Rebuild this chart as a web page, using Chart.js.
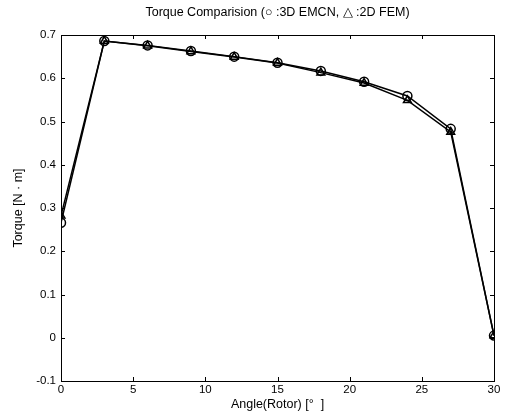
<!DOCTYPE html>
<html>
<head>
<meta charset="utf-8">
<script src="https://cdn.jsdelivr.net/npm/chart.js@4.4.0/dist/chart.umd.min.js"></script>
<style>
  html, body { margin: 0; padding: 0; background: #fff; }
  #wrap { width: 505px; height: 412px; }
</style>
</head>
<body>
<div id="wrap"><canvas id="grafico" width="505" height="412"></canvas></div>
<script>
/* Dados */
const angulos = [0, 3, 6, 9, 12, 15, 18, 21, 24, 27, 30];
const torqueEmcn = [0.266, 0.686, 0.676, 0.663, 0.650, 0.636, 0.617, 0.592, 0.559, 0.483, 0.005];
const torqueFem  = [0.282, 0.686, 0.675, 0.662, 0.649, 0.635, 0.613, 0.589, 0.549, 0.476, 0.005];
const ticksX = [0, 5, 10, 15, 20, 25, 30];
const ticksY = [-0.1, 0, 0.1, 0.2, 0.3, 0.4, 0.5, 0.6, 0.7];

const fonte = "'Liberation Sans', Arial, sans-serif";

function pares(ys) {
  return angulos.map((x, i) => ({ x, y: ys[i] }));
}

/* Moldura estilo MATLAB: caixa fechada e ticks para dentro nos 4 lados */
const moldura = {
  id: 'moldura',
  afterDraw(chart) {
    const { ctx, chartArea: a, scales } = chart;
    const len = 4;
    ctx.save();
    ctx.strokeStyle = '#000';
    ctx.lineWidth = 1;
    ctx.strokeRect(a.left + 0.5, a.top + 0.5, a.right - a.left, a.bottom - a.top);
    ctx.beginPath();
    ticksX.forEach(v => {
      const px = Math.round(scales.x.getPixelForValue(v)) + 0.5;
      ctx.moveTo(px, a.bottom); ctx.lineTo(px, a.bottom - len);
      ctx.moveTo(px, a.top);    ctx.lineTo(px, a.top + len);
    });
    ticksY.forEach(v => {
      const py = Math.round(scales.y.getPixelForValue(v)) + 0.5;
      ctx.moveTo(a.left, py);  ctx.lineTo(a.left + len, py);
      ctx.moveTo(a.right, py); ctx.lineTo(a.right - len, py);
    });
    ctx.stroke();
    ctx.restore();
  }
};

new Chart(document.getElementById('grafico').getContext('2d'), {
  type: 'line',
  data: {
    datasets: [
      {
        label: '3D EMCN',
        data: pares(torqueEmcn),
        borderColor: '#000',
        borderWidth: 1.5,
        pointStyle: 'circle',
        pointRadius: 4.5,
        pointBorderWidth: 1.5,
        pointBackgroundColor: 'rgba(255,255,255,0)',
        pointBorderColor: '#000',
        tension: 0,
      },
      {
        label: '2D FEM',
        data: pares(torqueFem),
        borderColor: '#000',
        borderWidth: 1.5,
        pointStyle: 'triangle',
        pointRadius: 4.5,
        pointBorderWidth: 1.5,
        pointBackgroundColor: 'rgba(255,255,255,0)',
        pointBorderColor: '#000',
        tension: 0,
      },
    ],
  },
  options: {
    responsive: false,
    animation: false,
    layout: { padding: { left: 0, right: 11, top: 0, bottom: 0 } },
    plugins: {
      legend: { display: false },
      tooltip: { enabled: false },
      title: {
        display: true,
        fullSize: false,
        text: 'Torque Comparision (○ :3D EMCN, △ :2D FEM)',
        color: '#000',
        font: { family: fonte, size: 12.5, weight: 'normal' },
        padding: { top: 5, bottom: 15 },
      },
    },
    scales: {
      x: {
        type: 'linear',
        min: 0,
        max: 30,
        afterBuildTicks(scale) { scale.ticks = ticksX.map(value => ({ value })); },
        afterFit(scale) { scale.height = 31; },
        grid: { display: false, drawTicks: false },
        border: { display: false },
        ticks: { color: '#000', padding: 2, font: { family: fonte, size: 11.5 } },
        title: {
          display: true,
          text: 'Angle(Rotor) [°  ]',
          color: '#000',
          padding: 0,
          font: { family: fonte, size: 12.5 },
        },
      },
      y: {
        min: -0.1,
        max: 0.7,
        afterBuildTicks(scale) { scale.ticks = ticksY.map(value => ({ value })); },
        afterFit(scale) { scale.width = 61; },
        grid: { display: false, drawTicks: false },
        border: { display: false },
        ticks: {
          color: '#000',
          padding: 5,
          font: { family: fonte, size: 11.5 },
          callback: v => String(Math.round(v * 10) / 10),
        },
        title: {
          display: true,
          text: 'Torque [N · m]',
          color: '#000',
          padding: { top: 11, bottom: 0 },
          font: { family: fonte, size: 12.5 },
        },
      },
    },
  },
  plugins: [moldura],
});
</script>
</body>
</html>
